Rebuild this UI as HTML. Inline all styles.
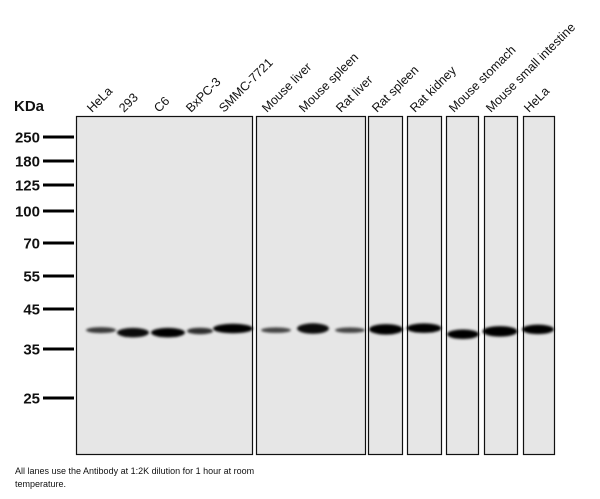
<!DOCTYPE html>
<html><head><meta charset="utf-8"><style>
body{margin:0;background:#fff;width:600px;height:499px;overflow:hidden}
svg{display:block}
text{font-family:"Liberation Sans",Arial,sans-serif}
</style></head><body>
<svg id="blot" width="600" height="499" viewBox="0 0 600 499">
<defs><filter id="bl" x="-50%" y="-100%" width="200%" height="300%"><feGaussianBlur stdDeviation="1.3"/></filter></defs>
<text x="14" y="111" font-size="15" font-weight="bold" fill="#111">KDa</text>
<g id="markers"></g>
<g id="panels"></g>
<g id="bands"></g>
<g id="labels"></g>
<text x="15" y="474" font-size="9" fill="#111">All lanes use the Antibody at 1:2K dilution for 1 hour at room</text>
<text x="15" y="487" font-size="9" fill="#111">temperature.</text>
</svg>
<script>
const markerLabels=["250","180","125","100","70","55","45","35","25"];
const markerKDa=[250,180,125,100,70,55,45,35,25];
const markerY=[137,161,185,211,243,276,309,349,398]; // ladder calibration
const lanes=["HeLa","293","C6","BxPC-3","SMMC-7721","Mouse liver","Mouse spleen","Rat liver","Rat spleen","Rat kidney","Mouse stomach","Mouse small intestine","HeLa"];
const laneCenter=[101,133,168,200,233,276,313,350,386,424,463,500,538];
const laneWidth=[30,32,34,26,40,30,32,30,34,35,32,35,32];
const bandKDa=[39.4,38.8,38.8,39.2,39.8,39.4,39.8,39.4,39.6,39.9,38.4,39.1,39.6];
const bandIntensity=[0.75,0.95,1,0.8,1,0.7,0.95,0.7,1,1,1,1,1];
const bandThick=[6,9.5,9.5,6.5,9.5,5.5,10.5,5.5,10.5,9.5,9.5,10.5,9.5];
const panels=[[76,252],[256,365],[368,402],[407,441],[446,478],[484,517],[523,554]];
const ns="http://www.w3.org/2000/svg";
function yOf(k){ // log interpolation on ladder
  const lk=Math.log(k);
  for(let i=0;i<markerKDa.length-1;i++){
    const a=Math.log(markerKDa[i]),b=Math.log(markerKDa[i+1]);
    if(lk<=a&&lk>=b) return markerY[i]+(a-lk)/(a-b)*(markerY[i+1]-markerY[i]);
  }
  return markerY[markerY.length-1];
}
const mk=document.getElementById('markers');
markerLabels.forEach((l,i)=>{
  const y=yOf(markerKDa[i]);
  const t=document.createElementNS(ns,'text');
  
  
  t.setAttribute('x',40);t.setAttribute('y',y+5.5);t.setAttribute('text-anchor','end');
  t.setAttribute('font-size','15');t.setAttribute('font-weight','bold');t.setAttribute('fill','#111');
  t.textContent=l;mk.appendChild(t);
  const r=document.createElementNS(ns,'rect');
  
  
  r.setAttribute('x',43);r.setAttribute('y',y-1.5);r.setAttribute('width',31);r.setAttribute('height',3);r.setAttribute('fill','#000');
  mk.appendChild(r);
});
const pg=document.getElementById('panels');
panels.forEach(p=>{
  const r=document.createElementNS(ns,'rect');
  
  
  r.setAttribute('x',p[0]+0.5);r.setAttribute('y',116.5);r.setAttribute('width',p[1]-p[0]);r.setAttribute('height',338);
  r.setAttribute('fill','#e6e6e6');r.setAttribute('stroke','#111');r.setAttribute('stroke-width','1.2');
  pg.appendChild(r);
});
const bg=document.getElementById('bands'),lg=document.getElementById('labels');
lanes.forEach((n,i)=>{
  const e=document.createElementNS(ns,'ellipse');
  
  
  e.setAttribute('cx',laneCenter[i]);e.setAttribute('cy',yOf(bandKDa[i]));
  e.setAttribute('rx',laneWidth[i]/2);e.setAttribute('ry',bandThick[i]/2);
  e.setAttribute('fill','#000');e.setAttribute('opacity',bandIntensity[i]);e.setAttribute('filter','url(#bl)');
  bg.appendChild(e);
  const t=document.createElementNS(ns,'text');
  
  
  const x=laneCenter[i]-9,y=113;
  t.setAttribute('x',x);t.setAttribute('y',y);t.setAttribute('font-size','12.5');t.setAttribute('fill','#111');
  t.setAttribute('transform','rotate(-45 '+x+' '+y+')');
  t.textContent=n;lg.appendChild(t);
});
</script>
</body></html>
